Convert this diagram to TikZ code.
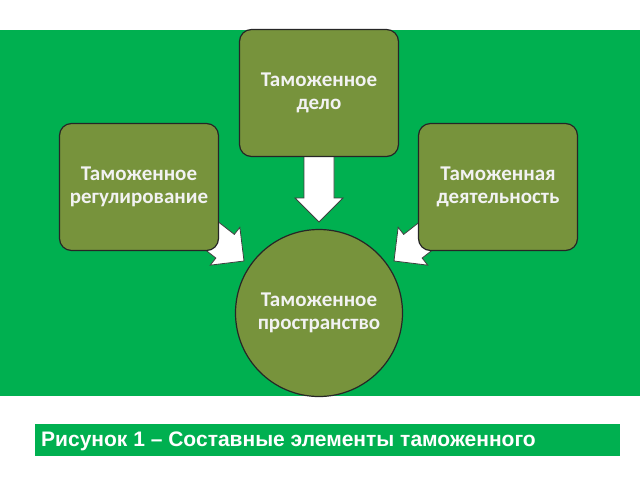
\documentclass[tikz,border=0pt]{standalone}
\usepackage{fontspec}
\setmainfont{Carlito}
\newfontfamily\capfont{Liberation Sans}
\definecolor{bggreen}{HTML}{00B050}
\definecolor{boxolive}{HTML}{77933C}
\begin{document}
\begin{tikzpicture}[x=1pt,y=-1pt,
  box/.style={draw=black!85, line width=1.2pt, fill=boxolive, rounded corners=12pt,
    minimum width=159pt, minimum height=127pt, text=white!95!black,
    font=\bfseries\fontsize{21}{23.5}\selectfont, align=center},
  hub/.style={circle, draw=black!85, line width=1.2pt, fill=boxolive, minimum size=167pt,
    text=white!95!black, font=\bfseries\fontsize{21}{23.5}\selectfont, align=center},
  blockarrow/.style={fill=white, draw=black!75, line width=0.8pt, line join=miter},
  captext/.style={text=white, font=\capfont\bfseries\fontsize{21}{24}\selectfont, inner sep=0pt}]
\fill[white] (0,0) rectangle (640,480);
\useasboundingbox (0,0) rectangle (640,480);
\fill[bggreen] (0,30) rectangle (640,396);
% block arrows
\coordinate (tipD) at (319,222);
\coordinate (tipL) at (244,261);
\coordinate (tipR) at (394,261);
\begin{scope}[shift={(tipD)}, rotate=-90]
  \draw[blockarrow] (0,0) -- (-24,24) -- (-24,15) -- (-72,15) -- (-72,-15) -- (-24,-15) -- (-24,-24) -- cycle;
\end{scope}
\begin{scope}[shift={(tipL)}, rotate=-38]
  \draw[blockarrow] (0,0) -- (-24,24) -- (-24,15) -- (-62,15) -- (-62,-15) -- (-24,-15) -- (-24,-24) -- cycle;
\end{scope}
\begin{scope}[shift={(tipR)}, rotate=-142]
  \draw[blockarrow] (0,0) -- (-24,24) -- (-24,15) -- (-62,15) -- (-62,-15) -- (-24,-15) -- (-24,-24) -- cycle;
\end{scope}
% boxes
\node[box] (delo) at (319,93) {Таможенное\\дело};
\node[box] (reg) at (139,187) {Таможенное\\регулирование};
\node[box] (deyat) at (498,187) {Таможенная\\деятельность};
\node[hub] (prostr) at (319,313) {Таможенное\\пространство};
% caption
\fill[bggreen] (35,424) rectangle (620,456);
\node[captext, anchor=base west] (cap) at (41,446) {Рисунок 1 – Составные элементы таможенного};
\end{tikzpicture}
\end{document}
